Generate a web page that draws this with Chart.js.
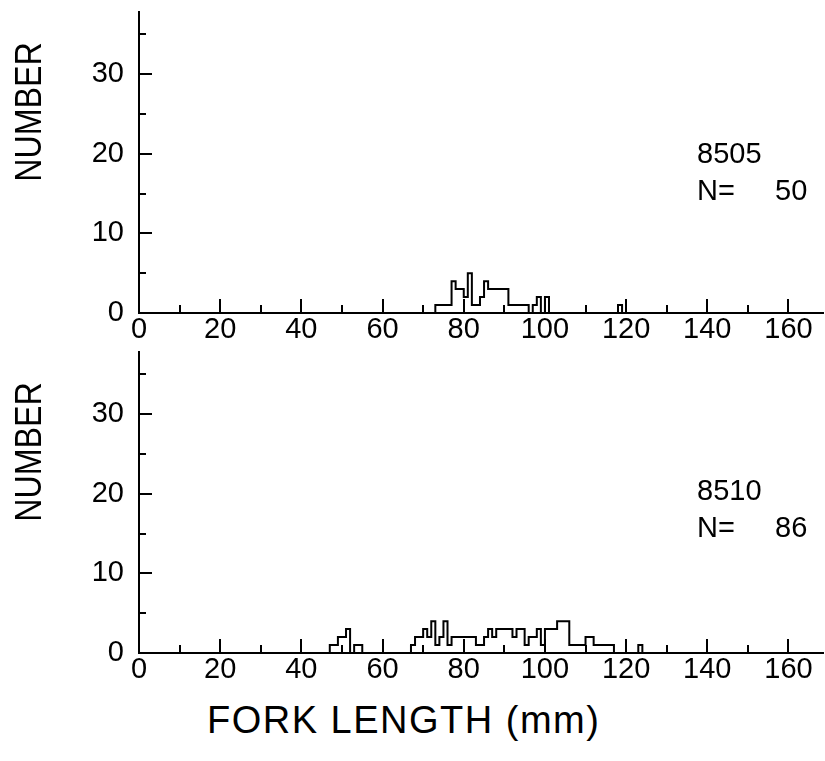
<!DOCTYPE html>
<html>
<head>
<meta charset="utf-8">
<script src="https://cdn.jsdelivr.net/npm/chart.js@4.4.0/dist/chart.umd.min.js"></script>
<style>
  body { margin: 0; background: #fff; }
  #wrap { position: relative; width: 825px; height: 761px; font-family: "Liberation Sans", Arial, sans-serif; color: #000; }
  .pane { position: absolute; left: 0; width: 825px; height: 345px; }
  .txt { position: absolute; font-size: 29px; line-height: 29px; white-space: nowrap; }
  .ylab { position: absolute; left: 28px; font-size: 37px; line-height: 37px; white-space: nowrap;
          transform: translate(-50%, -50%) rotate(-90deg) scaleX(0.87); }
</style>
</head>
<body>
<div id="wrap">
  <div class="pane" style="top:0"><canvas id="chartTop" width="825" height="345"></canvas></div>
  <div class="pane" style="top:340px"><canvas id="chartBottom" width="825" height="345"></canvas></div>

  <div class="ylab" style="top:112px">NUMBER</div>
  <div class="ylab" style="top:452px">NUMBER</div>

  <div class="txt" style="left:697px;top:139px">8505</div>
  <div class="txt" style="left:697px;top:176px">N=</div>
  <div class="txt" style="left:775px;top:176px">50</div>

  <div class="txt" style="left:697px;top:476px">8510</div>
  <div class="txt" style="left:697px;top:513px">N=</div>
  <div class="txt" style="left:775px;top:513px">86</div>

  <div class="txt" style="left:207px;top:701px;font-size:38px;line-height:38px;letter-spacing:1.5px">FORK LENGTH (mm)</div>
</div>

<script>
"use strict";
// fork length bins (mm, left edge of 1 mm bin) and counts
const binsTop = [73, 74, 75, 76, 77, 78, 79, 80, 81, 82, 83, 84, 85, 86, 87, 88, 89, 90, 91, 92, 93, 94, 95, 96, 98, 99, 101, 119];
const countsTop = [1, 1, 1, 1, 1, 4, 3, 3, 2, 5, 1, 1, 2, 4, 3, 3, 3, 3, 3, 1, 1, 1, 1, 1, 1, 2, 2, 1];

const binsBottom = [47, 48, 49, 50, 51, 52, 54, 55,
  68, 69, 70, 71, 72, 73, 74, 75, 76, 77,
  78, 79, 80, 81, 82, 83, 84, 85, 86,
  87, 88, 89, 90, 91, 92, 93, 94, 95,
  96, 97, 98, 99, 100, 101, 102, 103, 104, 105, 106,
  107, 108, 109, 110, 111, 112, 113, 114, 115, 116, 117, 124];
const countsBottom = [1, 1, 1, 2, 2, 3, 1, 1,
  1, 2, 2, 3, 2, 4, 1, 2, 4, 1,
  2, 2, 2, 2, 2, 2, 1, 1, 2,
  3, 2, 3, 3, 3, 3, 2, 3, 3,
  1, 2, 2, 3, 1, 3, 3, 3, 4, 4, 4,
  1, 1, 1, 1, 2, 2, 1, 1, 1, 1, 1, 1];

const xTicks = [0, 20, 40, 60, 80, 100, 120, 140, 160];
const yTicks = [0, 10, 20, 30];

const FONT = "Liberation Sans";

// outline of the histogram: one point per bin edge, empty bins inside the range are 0
function stepPoints(bins, counts) {
  const lo = bins[0], hi = bins[bins.length - 1];
  const pts = [{ x: lo, y: 0 }];
  for (let b = lo; b <= hi; b++) {
    const i = bins.indexOf(b);
    pts.push({ x: b, y: i < 0 ? 0 : counts[i] });
  }
  pts.push({ x: hi + 1, y: 0 });
  return pts;
}

// ticks in the original point inward, so draw them ourselves from the scales
const innerTicks = {
  id: "innerTicks",
  afterDraw(chart) {
    const ctx = chart.ctx;
    const x = chart.scales.x, y = chart.scales.y;
    const area = chart.chartArea;
    ctx.save();
    ctx.strokeStyle = "#000";
    ctx.lineWidth = 2;
    ctx.beginPath();
    for (let v = 10; v <= x.max; v += 10) {
      const px = Math.round(x.getPixelForValue(v));
      const len = v % 20 === 0 ? 14 : 8;
      ctx.moveTo(px, area.bottom);
      ctx.lineTo(px, area.bottom - len);
    }
    for (let v = 5; v <= y.max; v += 5) {
      const py = Math.round(y.getPixelForValue(v));
      const len = v % 10 === 0 ? 13 : 7;
      ctx.moveTo(area.left, py);
      ctx.lineTo(area.left + len, py);
    }
    ctx.stroke();
    ctx.restore();
  }
};

function makeChart(id, bins, counts) {
  return new Chart(document.getElementById(id), {
    type: "line",
    data: {
      datasets: [{
        data: stepPoints(bins, counts),
        stepped: "after",
        borderColor: "#000",
        borderWidth: 2,
        pointRadius: 0,
        fill: false
      }]
    },
    options: {
      responsive: false,
      animation: false,
      events: [],
      layout: { padding: { top: 12, right: 2, bottom: 0, left: 0 } },
      plugins: { legend: { display: false }, tooltip: { enabled: false } },
      scales: {
        x: {
          type: "linear",
          min: 0,
          max: 168.5,
          afterFit(s) { s.height = 32; s.paddingLeft = 0; s.paddingRight = 0; },
          afterBuildTicks(s) { s.ticks = xTicks.map(v => ({ value: v })); },
          grid: { display: false, drawTicks: false },
          border: { display: true, color: "#000", width: 2 },
          ticks: { color: "#000", font: { family: FONT, size: 29 }, padding: 0, maxRotation: 0, autoSkip: false }
        },
        y: {
          min: 0,
          max: 37.8,
          afterFit(s) { s.width = 139; s.paddingTop = 0; s.paddingBottom = 0; },
          afterBuildTicks(s) { s.ticks = yTicks.map(v => ({ value: v })); },
          grid: { display: false, drawTicks: false },
          border: { display: true, color: "#000", width: 2 },
          ticks: { color: "#000", font: { family: FONT, size: 29 }, padding: 15 }
        }
      }
    },
    plugins: [innerTicks]
  });
}

makeChart("chartTop", binsTop, countsTop);
makeChart("chartBottom", binsBottom, countsBottom);
</script>
</body>
</html>
